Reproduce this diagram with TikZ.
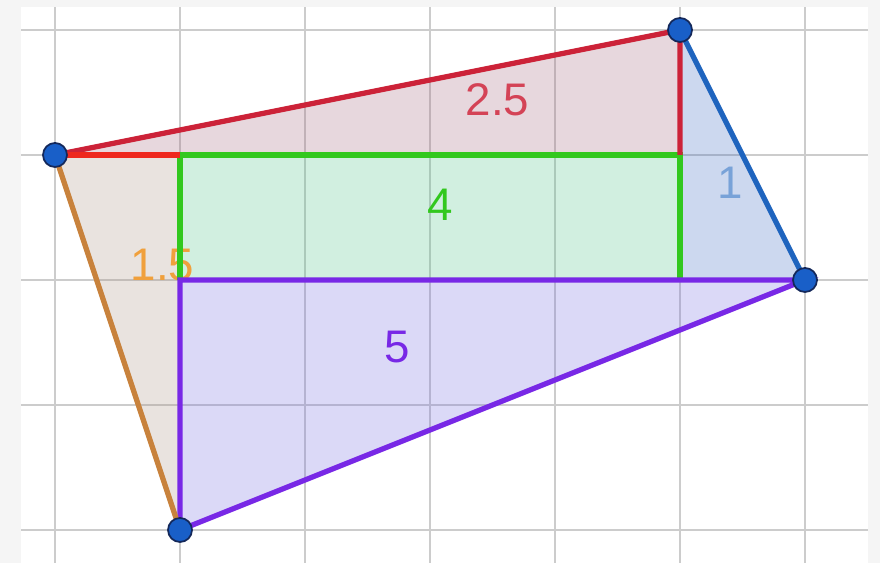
\documentclass[tikz,border=0pt]{standalone}
\usepackage{fontspec}
\setmainfont{Liberation Sans}
\usepackage{xcolor}
\usetikzlibrary{positioning}

\definecolor{redSide}{RGB}{204,34,56}
\definecolor{redShort}{RGB}{238,40,30}
\definecolor{greenSide}{RGB}{50,200,30}
\definecolor{blueSide}{RGB}{30,100,190}
\definecolor{purpleSide}{RGB}{120,40,230}
\definecolor{orangeSide}{RGB}{200,130,60}
\definecolor{ptBlue}{RGB}{25,95,200}
\definecolor{ptRim}{RGB}{20,40,90}
% fills, used at 25% over white
\definecolor{redArea}{RGB}{163,99,123}
\definecolor{greenArea}{RGB}{75,195,135}
\definecolor{blueArea}{RGB}{55,103,195}
\definecolor{purpleArea}{RGB}{115,107,227}
\definecolor{orangeArea}{RGB}{171,147,131}

\begin{document}
\begin{tikzpicture}[x=1.25cm, y=1.25cm,
    gridline/.style={draw=black!20, line width=0.7pt},
    side/.style={line width=1.5pt},
    region/.style={opacity=0.25},
    vertex/.style={circle, fill=ptBlue, draw=ptRim, line width=0.5pt,
                   inner sep=0pt, minimum size=0.24cm},
    area/.style={font=\fontsize{13}{15}\selectfont}]
    \useasboundingbox (-0.44,-0.264) rectangle (6.6,4.24);
    \fill[black!4] (-0.44,-0.264) rectangle (6.6,4.24);
    \fill[white] (-0.272,-0.264) rectangle (6.504,4.184);

    % Grid
    \foreach \x in {0,...,6}
      \draw[gridline] (\x,-0.264) -- (\x,4.184);
    \foreach \y in {0,...,4}
      \draw[gridline] (-0.272,\y) -- (6.504,\y);

    % Corners
    \coordinate (A) at (0,3);
    \coordinate (B) at (5,4);
    \coordinate (C) at (6,2);
    \coordinate (D) at (1,0);
    \coordinate (P) at (1,3);
    \coordinate (Q) at (5,3);
    \coordinate (R) at (5,2);
    \coordinate (S) at (1,2);

    % Regions
    \fill[region, redArea]    (A) -- (B) -- (Q) -- cycle;
    \fill[region, greenArea]  (P) -- (Q) -- (R) -- (S) -- cycle;
    \fill[region, blueArea]   (B) -- (C) -- (R) -- cycle;
    \fill[region, purpleArea] (S) -- (C) -- (D) -- cycle;
    \fill[region, orangeArea] (A) -- (P) -- (D) -- cycle;

    % Labels
    \node[area, text=redSide!85]      (l1) at (3.54,3.44) {2.5};
    \node[area, text=blueSide!60]     (l2) at (5.40,2.78) {1};
    \node[area, text=greenSide]       (l3) at (3.08,2.60) {4};
    \node[area, text={rgb,255:red,240;green,160;blue,60}] (l4) at (0.86,2.12) {1.5};
    \node[area, text=purpleSide]      (l5) at (2.74,1.46) {5};

    % Sides
    \draw[side, greenSide]  (P) -- (Q) -- (R);
    \draw[side, greenSide]  (P) -- (S);
    \draw[side, redSide]    (A) -- (B) -- (Q);
    \draw[side, redShort]   (A) -- (P);
    \draw[side, blueSide]   (B) -- (C);
    \draw[side, purpleSide] (S) -- (C) -- (D) -- cycle;
    \draw[side, orangeSide] (A) -- (D);

    % Points
    \node[vertex] (a) at (A) {};
    \node[vertex] (b) at (B) {};
    \node[vertex] (c) at (C) {};
    \node[vertex] (d) at (D) {};
\end{tikzpicture}
\end{document}
